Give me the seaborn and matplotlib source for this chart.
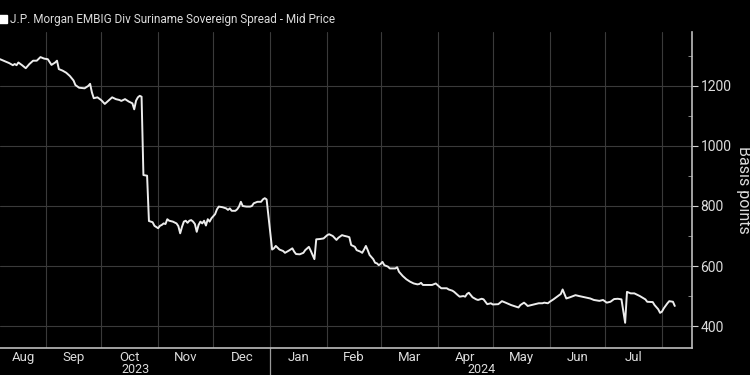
import pandas as pd
import numpy as np
import matplotlib
matplotlib.use('Agg')
import matplotlib.pyplot as plt
from matplotlib.lines import Line2D
import seaborn as sns

# spread values (basis points)
dates = [
    '2023-08-07', '2023-08-10', '2023-08-12', '2023-08-14', '2023-08-15', '2023-08-16',
    '2023-08-17', '2023-08-19', '2023-08-21', '2023-08-23', '2023-08-25', '2023-08-27',
    '2023-08-29', '2023-08-31', '2023-09-02', '2023-09-04', '2023-09-06', '2023-09-07',
    '2023-09-08', '2023-09-10', '2023-09-12', '2023-09-14', '2023-09-16', '2023-09-17',
    '2023-09-19', '2023-09-22', '2023-09-24', '2023-09-25', '2023-09-26', '2023-09-27',
    '2023-09-29', '2023-10-01', '2023-10-03', '2023-10-05', '2023-10-07', '2023-10-09',
    '2023-10-11', '2023-10-12', '2023-10-14', '2023-10-16', '2023-10-18', '2023-10-19',
    '2023-10-20', '2023-10-21', '2023-10-22', '2023-10-23', '2023-10-24', '2023-10-26',
    '2023-10-27', '2023-10-29', '2023-10-30', '2023-11-01', '2023-11-02', '2023-11-03',
    '2023-11-04', '2023-11-05', '2023-11-06', '2023-11-07', '2023-11-09', '2023-11-11',
    '2023-11-12', '2023-11-13', '2023-11-14', '2023-11-15', '2023-11-16', '2023-11-17',
    '2023-11-18', '2023-11-19', '2023-11-20', '2023-11-21', '2023-11-22', '2023-11-23',
    '2023-11-24', '2023-11-25', '2023-11-26', '2023-11-27', '2023-11-28', '2023-11-29',
    '2023-11-30', '2023-12-02', '2023-12-03', '2023-12-04', '2023-12-06', '2023-12-08',
    '2023-12-09', '2023-12-10', '2023-12-11', '2023-12-13', '2023-12-14', '2023-12-15',
    '2023-12-16', '2023-12-17', '2023-12-19', '2023-12-21', '2023-12-22', '2023-12-23',
    '2023-12-25', '2023-12-27', '2023-12-28', '2023-12-29', '2023-12-30',
    '2024-01-02', '2024-01-03', '2024-01-04', '2024-01-06', '2024-01-08', '2024-01-09',
    '2024-01-11', '2024-01-13', '2024-01-14', '2024-01-15', '2024-01-17', '2024-01-19',
    '2024-01-20', '2024-01-22', '2024-01-23', '2024-01-24', '2024-01-25', '2024-01-26',
    '2024-01-28', '2024-01-30', '2024-02-01', '2024-02-02', '2024-02-04', '2024-02-06',
    '2024-02-07', '2024-02-09', '2024-02-10', '2024-02-12', '2024-02-13', '2024-02-14',
    '2024-02-16', '2024-02-17', '2024-02-19', '2024-02-20', '2024-02-21', '2024-02-22',
    '2024-02-23', '2024-02-24', '2024-02-26', '2024-02-27', '2024-02-28', '2024-02-29',
    '2024-03-01', '2024-03-02', '2024-03-03', '2024-03-05', '2024-03-06', '2024-03-09',
    '2024-03-10', '2024-03-11', '2024-03-13', '2024-03-15', '2024-03-17', '2024-03-19',
    '2024-03-21', '2024-03-22', '2024-03-23', '2024-03-24', '2024-03-26', '2024-03-29',
    '2024-03-31', '2024-04-02', '2024-04-03', '2024-04-06', '2024-04-07', '2024-04-09',
    '2024-04-10', '2024-04-12', '2024-04-13', '2024-04-15', '2024-04-16', '2024-04-17',
    '2024-04-18', '2024-04-20', '2024-04-22', '2024-04-23', '2024-04-25', '2024-04-26',
    '2024-04-27', '2024-04-28', '2024-04-30', '2024-05-01', '2024-05-04', '2024-05-05',
    '2024-05-06', '2024-05-08', '2024-05-11', '2024-05-14', '2024-05-15', '2024-05-16',
    '2024-05-18', '2024-05-19', '2024-05-20', '2024-05-22', '2024-05-24', '2024-05-26',
    '2024-05-28', '2024-05-29', '2024-05-31', '2024-06-01', '2024-06-03', '2024-06-05',
    '2024-06-07', '2024-06-08', '2024-06-10', '2024-06-12', '2024-06-15', '2024-06-17',
    '2024-06-20', '2024-06-23', '2024-06-25', '2024-06-28', '2024-06-30', '2024-07-02',
    '2024-07-04', '2024-07-06', '2024-07-08', '2024-07-10', '2024-07-12', '2024-07-13',
    '2024-07-15', '2024-07-17', '2024-07-20', '2024-07-23', '2024-07-24', '2024-07-27',
    '2024-07-28', '2024-07-30', '2024-07-31', '2024-08-01', '2024-08-02', '2024-08-04',
    '2024-08-05', '2024-08-07', '2024-08-08',
]
spread = [
    1289, 1281, 1276, 1269, 1273, 1269,
    1278, 1269, 1259, 1273, 1284, 1284,
    1296, 1291, 1289, 1270, 1278, 1284,
    1256, 1251, 1244, 1233, 1218, 1203,
    1194, 1192, 1200, 1207, 1178, 1159,
    1162, 1153, 1140, 1151, 1162, 1156,
    1153, 1150, 1156, 1148, 1142, 1122,
    1151, 1162, 1167, 1164, 903, 901,
    750, 746, 734, 726, 734, 737,
    742, 740, 756, 751, 748, 742,
    733, 709, 731, 748, 751, 744,
    751, 753, 748, 740, 714, 737,
    748, 742, 751, 735, 756, 748,
    759, 773, 789, 798, 796, 792,
    787, 792, 784, 784, 789, 798,
    814, 800, 798, 798, 800, 809,
    814, 814, 822, 826, 822,
    655, 659, 667, 655, 650, 644,
    651, 659, 648, 640, 639, 644,
    653, 664, 651, 637, 623, 689,
    690, 692, 703, 706, 700, 687,
    694, 703, 701, 698, 696, 670,
    664, 653, 648, 644, 655, 667,
    653, 637, 623, 611, 609, 603,
    607, 614, 603, 598, 592, 592,
    596, 581, 567, 556, 548, 542,
    539, 540, 544, 537, 537, 537,
    542, 531, 526, 526, 522, 518,
    514, 503, 498, 500, 498, 507,
    511, 496, 489, 487, 491, 489,
    481, 473, 476, 472, 473, 478,
    483, 478, 470, 464, 462, 470,
    478, 473, 467, 470, 473, 476,
    476, 478, 476, 481, 489, 498,
    507, 522, 492, 496, 503, 500,
    496, 492, 487, 484, 487, 478,
    481, 490, 491, 489, 411, 514,
    509, 509, 500, 489, 481, 480,
    470, 456, 444, 448, 459, 476,
    483, 481, 467,
]
month_names = ['Aug', 'Sep', 'Oct', 'Nov', 'Dec', 'Jan', 'Feb', 'Mar', 'Apr', 'May', 'Jun', 'Jul']
year_labels = ['2023', '2024']
series_name = 'J.P. Morgan EMBIG Div Suriname Sovereign Spread - Mid Price'

df = pd.DataFrame({'date': pd.to_datetime(dates), 'spread': spread})

sns.set_style('dark', {'axes.facecolor': 'black', 'figure.facecolor': 'black'})
plt.rcParams['font.family'] = ['Roboto', 'DejaVu Sans']

txt = '#dcdcdc'
grid = '#3a3a3a'

fig = plt.figure(figsize=(7.5, 3.75), dpi=100)
fig.patch.set_facecolor('black')
ax = fig.add_axes([0.0, 0.072, 0.923, 0.843])
ax.set_facecolor('black')

sns.lineplot(data=df, x='date', y='spread', color='#ececec', linewidth=1.4, ax=ax, zorder=3)

x0 = pd.Timestamp('2023-08-07')
x1 = pd.Timestamp('2024-08-17 12:00')
ax.set_xlim(x0, x1)
ax.set_ylim(327, 1380)

# month boundaries, labels centred on the visible part of each month
starts = pd.date_range('2023-08-01', '2024-08-01', freq='MS')
bounds = [s for s in starts if x0 < s < x1]
ax.set_xticks(bounds)
ax.set_xticklabels([])
centres = []
for i in range(len(month_names)):
    a = max(starts[i], x0)
    b = min(starts[i + 1], x1)
    centres.append(a + (b - a) / 2)
ax.set_xticks(centres, minor=True)
ax.set_xticklabels(month_names, minor=True)
ax.tick_params(axis='x', which='minor', length=0, pad=2, labelsize=9.5, labelcolor=txt)
ax.tick_params(axis='x', which='major', length=4, direction='inout', color='#9a9a9a')

# right hand y-axis
yticks = [400, 600, 800, 1000, 1200]
ax.yaxis.tick_right()
ax.yaxis.set_label_position('right')
ax.set_yticks(yticks)
ax.set_yticks(np.arange(400, 1400, 100), minor=True)
ax.tick_params(axis='y', which='major', length=4, direction='out', color='#d0d0d0',
               labelsize=10, labelcolor=txt, pad=2)
ax.tick_params(axis='y', which='minor', length=3, direction='in', color='#9a9a9a')
ax.set_ylabel('Basis points', rotation=270, color=txt, fontsize=11.5, labelpad=14)
ax.set_xlabel('')

# faint grid at month boundaries and major y ticks
for b in bounds:
    ax.axvline(b, color=grid, linestyle='-', linewidth=0.8, zorder=1)
for t in yticks:
    ax.axhline(t, color=grid, linestyle='-', linewidth=0.8, zorder=1)

for side in ['top', 'left']:
    ax.spines[side].set_visible(False)
for side in ['right', 'bottom']:
    ax.spines[side].set_visible(True)
    ax.spines[side].set_color('#bdbdbd')
    ax.spines[side].set_linewidth(1.2)

# year labels and the divider between years
jan = pd.Timestamp('2024-01-01')
ax.plot([jan, jan], [0, -0.09], transform=ax.get_xaxis_transform(), color='#9a9a9a',
        linewidth=0.9, clip_on=False)
year_spans = [(x0, jan), (jan, x1)]
for lab, (a, b) in zip(year_labels, year_spans):
    ax.text(a + (b - a) / 2, -0.047, lab, transform=ax.get_xaxis_transform(),
            ha='center', va='top', fontsize=9, color=txt, clip_on=False)

handle = Line2D([], [], marker='s', linestyle='none', color='white', markersize=6)
fig.legend([handle], [series_name], loc='center left', bbox_to_anchor=(-0.004, 0.947),
           frameon=False, fontsize=8.5, labelcolor=txt, handletextpad=0.1,
           borderpad=0, borderaxespad=0, handlelength=1.0)

fig.savefig('out.png', dpi=100, facecolor='black')
